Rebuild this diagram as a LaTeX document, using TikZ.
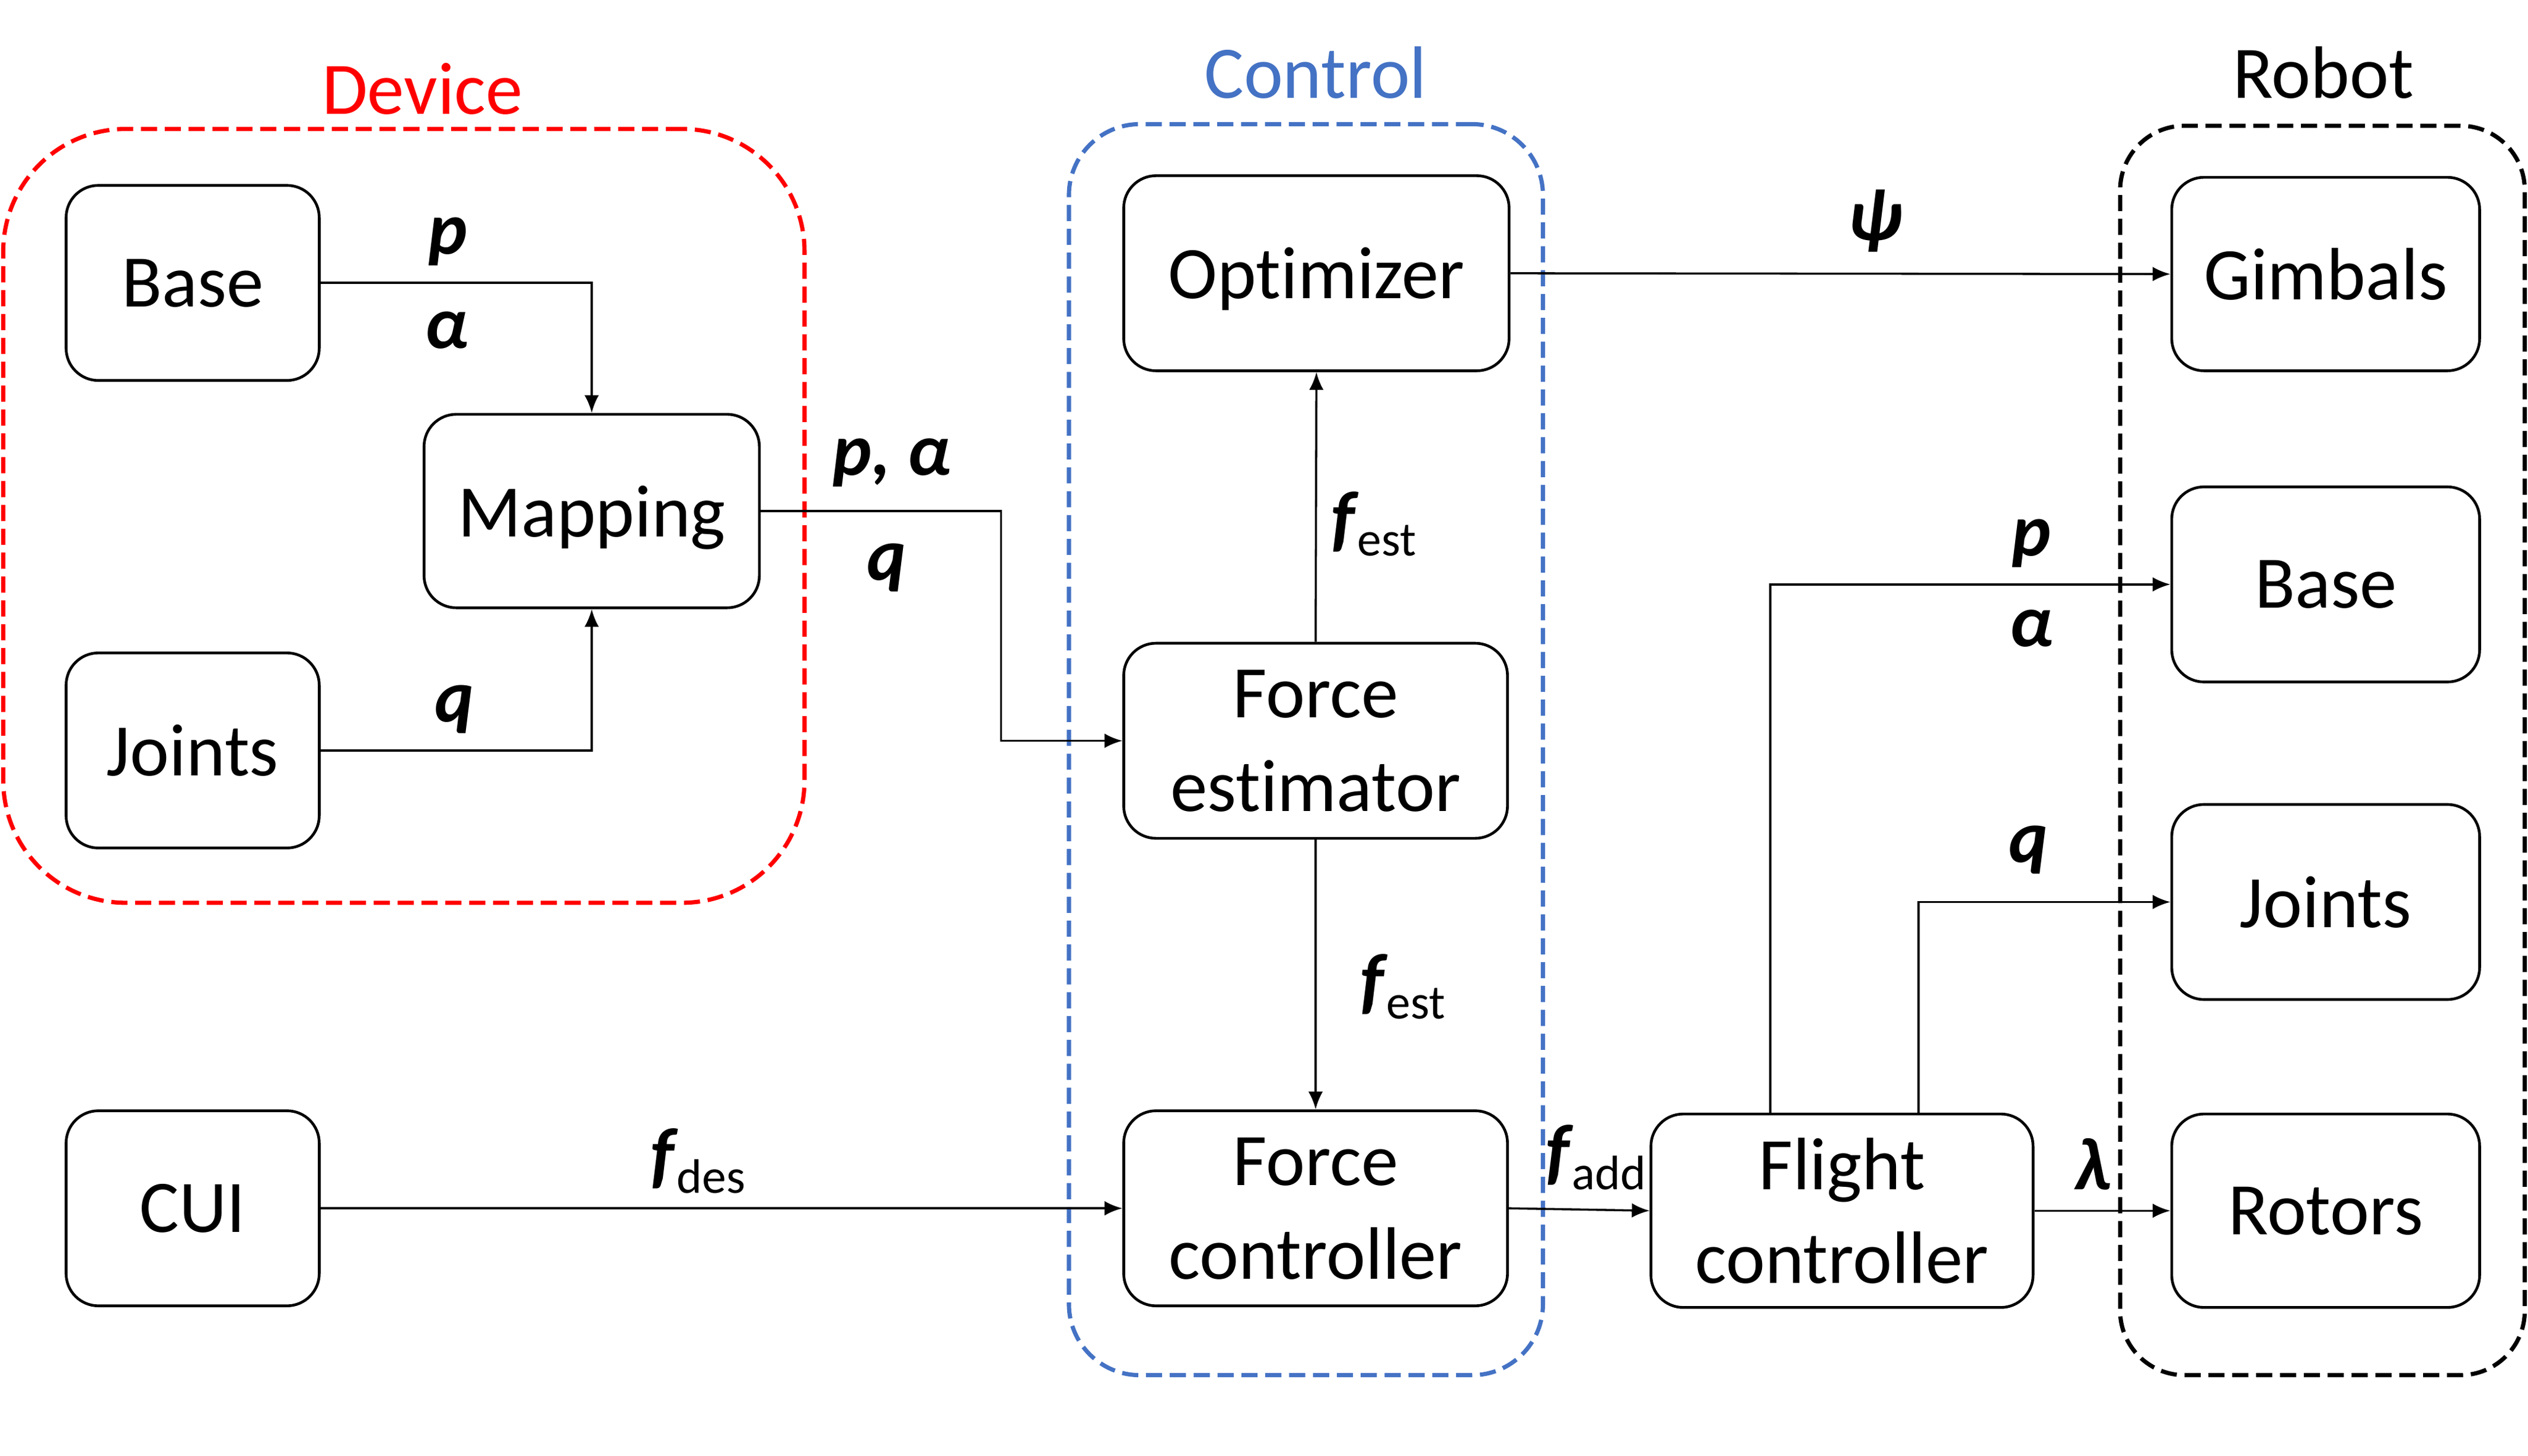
\documentclass[tikz,border=0pt]{standalone}
\usepackage{fontspec}
\setmainfont{Carlito}[Ligatures=NoCommon]
\usetikzlibrary{arrows.meta,calc}
\definecolor{ctrlblue}{RGB}{68,114,196}
\newcommand{\lab}[1]{{\bfseries\itshape #1}}
\newcommand{\fsub}[1]{{\bfseries\itshape f}\kern0.8pt\raisebox{-4pt}{\fontsize{15}{15}\selectfont #1}}
\tikzset{
  blk/.style={draw, line width=0.85pt, rounded corners=10pt, align=center, inner sep=2pt,
    font=\fontsize{23}{29}\selectfont, text depth=0pt},
  grp/.style={draw, line width=1.3pt, dash pattern=on 5pt off 2.4pt},
  ttl/.style={font=\fontsize{23}{28}\selectfont, inner sep=0pt},
  lbl/.style={font=\fontsize{23}{26}\selectfont, inner sep=0pt},
  conn/.style={line width=0.65pt, -{Latex[length=5.5pt,width=4.5pt]}}
}
\begin{document}
\begin{tikzpicture}[x=0.5pt,y=-0.5pt]
\useasboundingbox (0,0) rectangle (1568,903);
% groups
\node[grp, red, rounded corners=38pt, minimum width=248.5pt, minimum height=240pt] (device) at (250.5,320) {};
\node[grp, ctrlblue, rounded corners=22pt, minimum width=147pt, minimum height=388pt] (control) at (810,465) {};
\node[grp, black, rounded corners=20pt, minimum width=125.5pt, minimum height=387.5pt] (robot) at (1440.5,465.5) {};
\node[ttl, red] (tdevice) at (262,55) {Device};
\node[ttl, ctrlblue] (tcontrol) at (816,45) {Control};
\node[ttl] (trobot) at (1441,45) {Robot};
% blocks
\node[blk, minimum width=78.5pt, minimum height=60.5pt] (baseD) at (119.5,175.5) {Base};
\node[blk, minimum width=104pt, minimum height=60pt] (mapping) at (367,317) {Mapping};
\node[blk, minimum width=78.5pt, minimum height=60.5pt] (jointsD) at (119.5,465.5) {Joints};
\node[blk, minimum width=78.5pt, minimum height=60.5pt] (cui) at (119.5,749.5) {CUI};
\node[blk, minimum width=119.5pt, minimum height=60.5pt] (optimizer) at (816.5,169.5) {Optimizer};
\node[blk, minimum width=119pt, minimum height=60.5pt] (fest) at (816,459.5) {Force\\est\kern0pt imator};
\node[blk, minimum width=119pt, minimum height=60.5pt] (fctrl) at (816,749.5) {Force\\controller};
\node[blk, minimum width=118.5pt, minimum height=60pt] (flight) at (1142.5,751) {Flight\\controller};
\node[blk, minimum width=95.5pt, minimum height=60pt] (gimbals) at (1442.5,170) {Gimbals};
\node[blk, minimum width=95.5pt, minimum height=60.5pt] (baseR) at (1442.5,362.5) {Base};
\node[blk, minimum width=95.5pt, minimum height=60.5pt] (jointsR) at (1442.5,559.5) {Joints};
\node[blk, minimum width=95.5pt, minimum height=60pt] (rotors) at (1442.5,751) {Rotors};
% connectors
\draw[conn] (baseD.east) -| (mapping.north);
\draw[conn] (jointsD.east) -| (mapping.south);
\draw[conn] (mapping.east) -- ++(149,0) |- (fest.west);
\draw[conn] (optimizer.east) -- (gimbals.west);
\draw[conn] (fest.north) -- (optimizer.south);
\draw[conn] (fest.south) -- (fctrl.north);
\draw[conn] (cui.east) -- (fctrl.west);
\draw[conn] (fctrl.east) -- (flight.west);
\draw[conn] ([xshift=-22.25pt]flight.north) |- (baseR.west);
\draw[conn] ([xshift=23.75pt]flight.north) |- (jointsR.west);
\draw[conn] (flight.east) -- (rotors.west);
% labels
\node[lbl] (l1) at (278,150) {\lab{p}};
\node[lbl] (l2) at (277,205) {\lab{α}};
\node[lbl] (l3) at (282,440) {\lab{q}};
\node[lbl] (l4) at (553,287) {\lab{p, α}};
\node[lbl] (l5) at (550,352) {\lab{q}};
\node[lbl] (l6) at (1163,137) {\lab{ψ}};
\node[lbl] (l7) at (852,325) {\fsub{est}};
\node[lbl] (l8) at (870,612) {\fsub{est}};
\node[lbl] (l9) at (433,720) {\fsub{des}};
\node[lbl] (l10) at (990,718) {\fsub{add}};
\node[lbl] (l11) at (1260,337) {\lab{p}};
\node[lbl] (l12) at (1260,390) {\lab{α}};
\node[lbl] (l13) at (1258,527) {\lab{q}};
\node[lbl] (l14) at (1298,722) {\lab{λ}};
\end{tikzpicture}
\end{document}
